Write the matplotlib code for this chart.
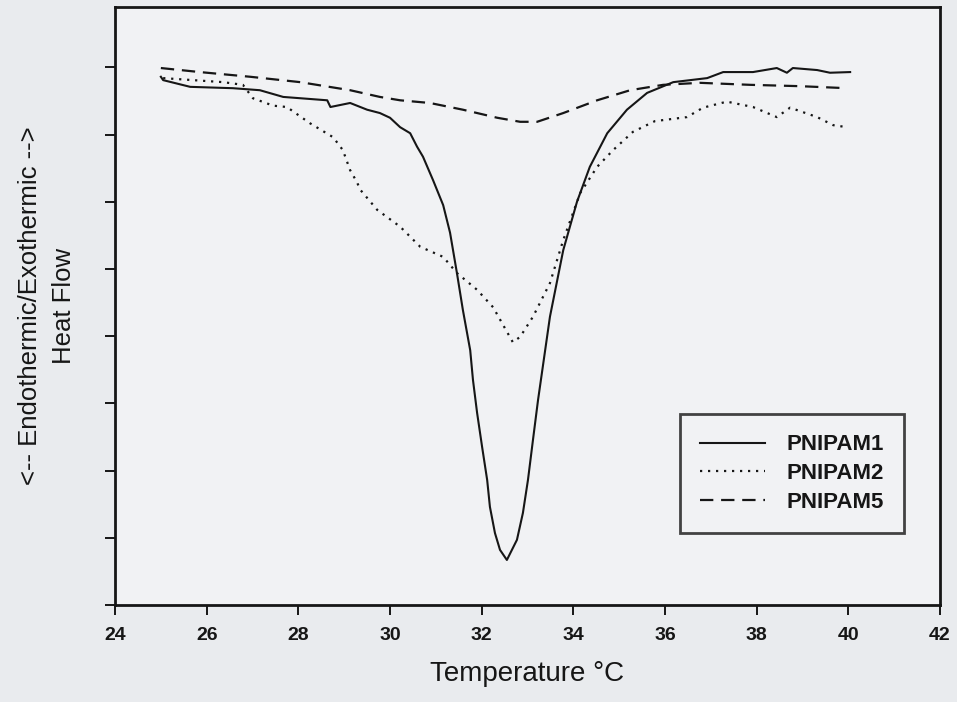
import matplotlib.pyplot as plt

plt.rcParams['font.family'] = ['Liberation Sans', 'DejaVu Sans']

# DSC traces, heat flow in arbitrary units
t1 = [25.0, 25.05, 25.64, 26.57, 27.16, 27.67, 28.63, 28.70, 29.13, 29.50,
      29.78, 30.00, 30.22, 30.44, 30.59, 30.72, 30.94, 31.16, 31.31, 31.46,
      31.59, 31.75, 31.81, 31.90, 32.01, 32.12, 32.18, 32.29, 32.40, 32.55,
      32.77, 32.90, 33.01, 33.12, 33.23, 33.49, 33.78, 34.08, 34.36, 34.74,
      35.17, 35.61, 36.18, 36.92, 37.27, 37.92, 38.44, 38.66, 38.79, 39.32,
      39.60, 40.04]
hf1 = [7.86, 7.81, 7.71, 7.69, 7.66, 7.56, 7.51, 7.41, 7.47, 7.37,
       7.32, 7.25, 7.11, 7.02, 6.82, 6.67, 6.32, 5.95, 5.54, 4.94,
       4.39, 3.79, 3.35, 2.86, 2.35, 1.86, 1.46, 1.07, 0.82, 0.67,
       0.97, 1.37, 1.86, 2.46, 3.05, 4.29, 5.28, 6.00, 6.52, 7.02,
       7.37, 7.62, 7.78, 7.84, 7.93, 7.93, 7.99, 7.92, 7.99, 7.96,
       7.92, 7.93]

t2 = [25.05, 26.36, 26.79, 27.01, 27.45, 27.75, 28.25, 28.76, 28.97, 29.13,
      29.28, 29.35, 29.72, 30.22, 30.66, 31.16, 31.46, 31.90, 32.25, 32.68,
      32.84, 33.12, 33.49, 33.78, 34.15, 34.52, 34.87, 35.30, 35.78, 36.48,
      36.83, 37.35, 37.92, 38.44, 38.73, 39.32, 39.67, 39.97]
hf2 = [7.84, 7.78, 7.74, 7.54, 7.43, 7.41, 7.17, 6.96, 6.77, 6.47,
       6.29, 6.18, 5.88, 5.63, 5.33, 5.18, 4.94, 4.69, 4.43, 3.91,
       3.99, 4.29, 4.79, 5.43, 6.13, 6.52, 6.77, 7.04, 7.20, 7.26,
       7.40, 7.49, 7.41, 7.26, 7.40, 7.26, 7.14, 7.11]

t5 = [25.0, 25.85, 26.95, 28.04, 29.13, 29.78, 30.22, 30.87, 31.59, 32.34,
      32.84, 33.21, 33.78, 34.52, 35.24, 35.96, 36.76, 37.86, 38.95, 39.97]
hf5 = [7.99, 7.93, 7.86, 7.78, 7.66, 7.56, 7.51, 7.47, 7.37, 7.25,
       7.19, 7.19, 7.32, 7.51, 7.66, 7.74, 7.77, 7.74, 7.72, 7.69]

labels = ['PNIPAM1', 'PNIPAM2', 'PNIPAM5']
xticks = list(range(24, 43, 2))
yticks = list(range(0, 9))

ink = '#161616'
fig = plt.figure(figsize=(9.57, 7.02), dpi=100, facecolor='#e9ebee')
ax = fig.add_axes([0.1202, 0.1382, 0.862, 0.852], facecolor='#f1f2f4')

ax.plot(t1, hf1, color=ink, lw=1.5, label=labels[0])
ax.plot(t2, hf2, color=ink, lw=1.6, ls=(0, (1, 2.6)), label=labels[1])
ax.plot(t5, hf5, color=ink, lw=1.6, ls=(0, (6, 3.5)), label=labels[2])

ax.set_xlim(24, 42)
ax.set_ylim(0, 8.9)
ax.set_xticks(xticks)
ax.set_yticks(yticks)
ax.set_yticklabels([])
ax.tick_params(direction='out', length=7, width=1.4, color=ink,
               labelsize=14, labelcolor=ink, pad=9)
for lab in ax.get_xticklabels():
    lab.set_fontweight('bold')
for s in ax.spines.values():
    s.set_linewidth(2)
    s.set_color(ink)

ax.set_xlabel('Temperature °C', fontsize=20, color=ink, labelpad=12)
ax.set_ylabel('<-- Endothermic/Exothermic -->\nHeat Flow', fontsize=18.5,
              color=ink, linespacing=1.55, labelpad=12)

leg = ax.legend(loc='lower right', bbox_to_anchor=(0.97, 0.102),
                prop={'size': 16, 'weight': 'bold'},
                frameon=True, fancybox=False, handlelength=2.9,
                handletextpad=1.0, borderpad=0.9, labelspacing=0.35)
leg.get_frame().set_edgecolor(ink)
leg.get_frame().set_linewidth(2)
leg.get_frame().set_facecolor('#f1f2f4')
for txt in leg.get_texts():
    txt.set_color(ink)

fig.savefig('out.png', dpi=100, facecolor=fig.get_facecolor())
